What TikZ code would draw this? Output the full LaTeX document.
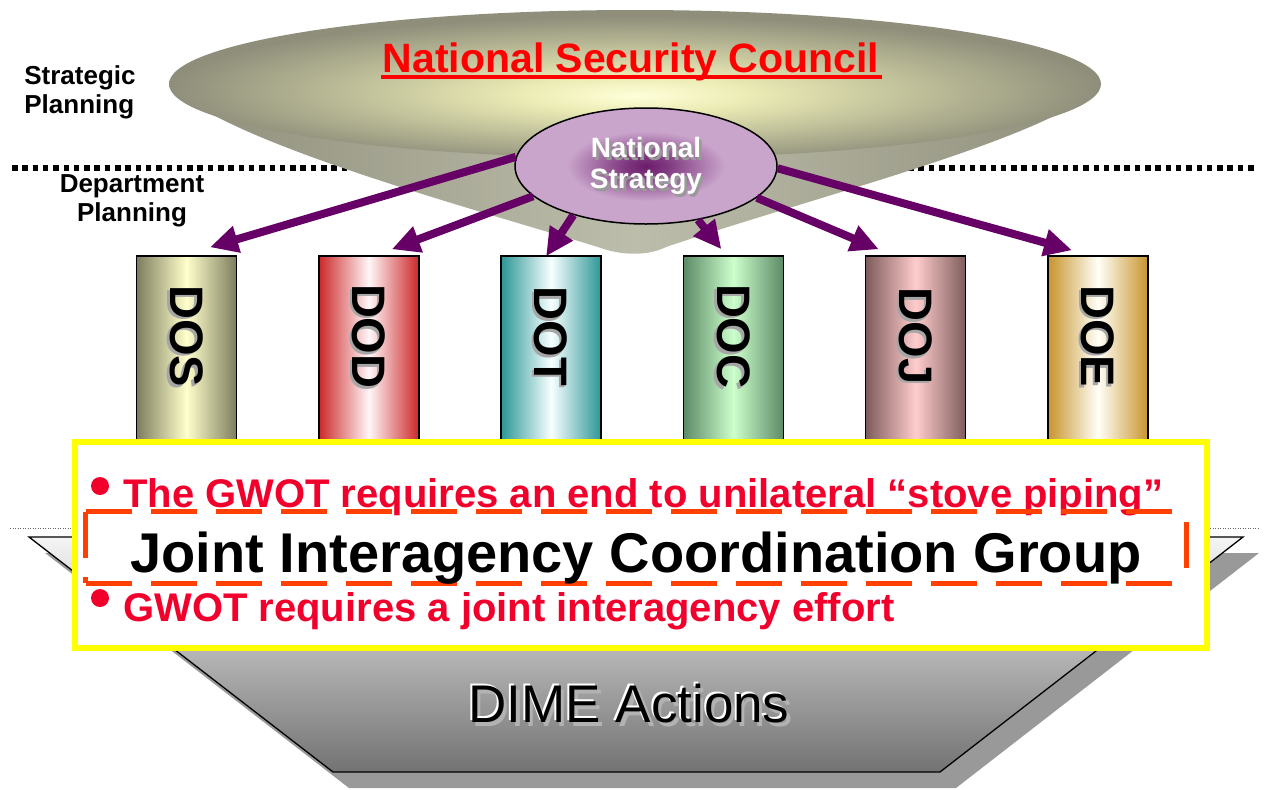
\documentclass[tikz,border=0pt]{standalone}
\usepackage{fontspec}
\setmainfont{Liberation Sans}
\usetikzlibrary{arrows.meta,shapes.geometric}

\definecolor{nscred}{HTML}{FF0000}
\definecolor{gwotred}{HTML}{F2002C}
\definecolor{jicgorange}{HTML}{FF4000}
\definecolor{boxyellow}{HTML}{FFFF00}
\definecolor{flowpurple}{HTML}{660066}
\definecolor{conedark}{HTML}{8E8E7B}
\definecolor{conelight}{HTML}{BDBDAB}
\definecolor{nsdark}{HTML}{6C1C6C}
\definecolor{nslight}{HTML}{C9A4CB}
\definecolor{dosedge}{HTML}{7D7D5E}
\definecolor{dosmid}{HTML}{FFFFCC}
\definecolor{dodedge}{HTML}{CC2828}
\definecolor{dodmid}{HTML}{FFF6F8}
\definecolor{dotedge}{HTML}{2C9696}
\definecolor{dotmid}{HTML}{F8FFFF}
\definecolor{docedge}{HTML}{5C8A66}
\definecolor{docmid}{HTML}{CCFFCC}
\definecolor{dojedge}{HTML}{7E5C5C}
\definecolor{dojmid}{HTML}{FFCCCC}
\definecolor{doeedge}{HTML}{C8942E}
\definecolor{doemid}{HTML}{FFFFF8}

\pgfdeclareradialshading{nscshade}{\pgfpoint{0bp}{-4bp}}{color(0bp)=(white!85!yellow); color(6bp)=(white!75!yellow!85!gray); color(25bp)=(conedark); color(50bp)=(conedark)}
\pgfdeclareradialshading{nsshade}{\pgfpoint{0bp}{0bp}}{color(0bp)=(nsdark); color(4bp)=(nsdark!80!nslight); color(15bp)=(nslight); color(50bp)=(nslight)}

\newcommand{\fsz}[2]{\fontsize{#1}{#2}\selectfont}

\tikzset{
  plan/.style={font=\bfseries\fsz{26}{29}, align=left, inner sep=0pt},
  pillar/.style={draw=black, line width=1.5pt, minimum width=100pt,
    minimum height=204pt, inner sep=0pt},
  pillarlabel/.style={rotate=-90, inner sep=0pt, font=\bfseries\fsz{47}{47}},
  flow/.style={draw=flowpurple, line width=8pt,
    -{Triangle[length=28pt,width=26pt]}},
  gwot/.style={anchor=base west, inner sep=0pt, text=gwotred,
    font=\bfseries\fsz{40}{40}},
  dot/.style={circle, fill=gwotred, inner sep=0pt, minimum size=18pt},
  dime/.style={anchor=base, inner sep=0pt, font=\fsz{53}{53}},
  jicgdash/.style={draw=jicgorange, line width=5pt, dash pattern=on 46pt off 19pt},
}

\begin{document}
\begin{tikzpicture}[x=1pt,y=-1pt]
  \useasboundingbox (0,0) rectangle (1264,790);
  \fill[white] (0,0) rectangle (1264,790);

  %planning levels
  \draw[line width=5.5pt, dash pattern=on 5.5pt off 4.8pt] (12,168) -- (1255,168);
  \node[plan] (strat) at (80,92) {Strategic\\Planning};
  \node[plan, align=center] (dept) at (132,201) {Department\\Planning};

  %council cone
  \shade[left color=conedark, right color=conedark, middle color=conelight]
    (169,84) .. controls (220,140) and (460,205) .. (598,247)
    .. controls (622,256) and (648,256) .. (666,247)
    .. controls (820,195) and (1060,135) .. (1101,84) -- cycle;
  \shade[shading=nscshade] (635,84) ellipse [x radius=466pt, y radius=74pt];
  \node[anchor=base, inner sep=0pt, text=nscred, font=\bfseries\fsz{41}{41}]
    (nsc) at (631,72) {National Security Council};
  \draw[nscred, line width=4.5pt] ([xshift=-1pt,yshift=-5pt]nsc.base west)
    -- ([xshift=2pt,yshift=-5pt]nsc.base east);

  %departments
  \foreach \nm/\lab/\i in {dos/DOS/0, dod/DOD/1, dot/DOT/2, doc/DOC/3, doj/DOJ/4, doe/DOE/5} {
    \node[pillar, left color=\nm edge, right color=\nm edge, middle color=\nm mid]
      (\nm) at ({186.5+182.3*\i},358) {};
    \node[pillarlabel, text=black!35] at ([xshift=-2.5pt,yshift=-83.5pt]\nm.north) {\lab};
    \node[pillarlabel] at ([yshift=-81pt]\nm.north) {\lab};
  }

  %national strategy
  \node[ellipse, draw=black, line width=1.5pt, shading=nsshade,
    minimum width=262pt, minimum height=116pt] (ns) at (646,166) {};
  \node[align=center, inner sep=0pt, text=black!40, font=\bfseries\fsz{28}{31}]
    at (648.5,168.5) {National\\Strategy};
  \node[align=center, inner sep=0pt, text=white, font=\bfseries\fsz{28}{31}]
    (nstext) at (646,166) {National\\Strategy};

  \draw[flow] (ns.176) -- ([xshift=23.5pt,yshift=8pt]dos.north);
  \draw[flow] (ns.195) -- ([xshift=23pt,yshift=6pt]dod.north);
  \draw[flow] (ns.214) -- ([xshift=-5pt,yshift=-1pt]dot.north);
  \draw[flow] (ns.314) -- ([xshift=-12pt,yshift=6pt]doc.north);
  \draw[flow] (ns.344) -- ([xshift=-37pt,yshift=6pt]doj.north);
  \draw[flow] (ns.359) -- ([xshift=-26pt,yshift=5pt]doe.north);

  %dime actions
  \draw[black!60, line width=1pt, dash pattern=on 1pt off 1.5pt] (10,528) -- (1258,528);
  \fill[black!40] (45,553) -- (1259,553) -- (956,788) -- (349,788) -- cycle;
  \shade[top color=white!96!black, bottom color=black!55, draw=black, line width=1.3pt]
    (29,537) -- (1243,537) -- (940,772) -- (333,772) -- cycle;
  \node[dime, text=black!30] at (632.5,726) {DIME Actions};
  \node[dime, text=white] at (627,720) {DIME Actions};
  \node[dime] (dime) at (629,722) {DIME Actions};

  %gwot box
  \node[draw=boxyellow, line width=6pt, fill=white, minimum width=1132pt,
    minimum height=206pt, inner sep=0pt] (gwotbox) at (641,545) {};
  \node[dot] (b1) at (100,486) {};
  \node[gwot] (g1) at (123,507) {The GWOT requires an end to unilateral “stove piping”};
  \node[minimum width=1100pt, minimum height=71pt, inner sep=0pt] (jicg) at (636,547.5) {};
  \draw[jicgdash] (jicg.north west) -- (jicg.north east);
  \draw[jicgdash] (jicg.south west) -- (jicg.south east);
  \draw[jicgdash] (jicg.north west) -- (jicg.south west);
  \draw[jicgdash] ([yshift=-10pt]jicg.north east) -- (jicg.south east);
  \node[anchor=base, inner sep=0pt, font=\bfseries\fsz{56}{56}]
    (jicgtext) at (636,572) {Joint Interagency Coordination Group};
  \node[dot] (b2) at (100,598) {};
  \node[gwot] (g2) at (123,621) {GWOT requires a joint interagency effort};
\end{tikzpicture}
\end{document}
